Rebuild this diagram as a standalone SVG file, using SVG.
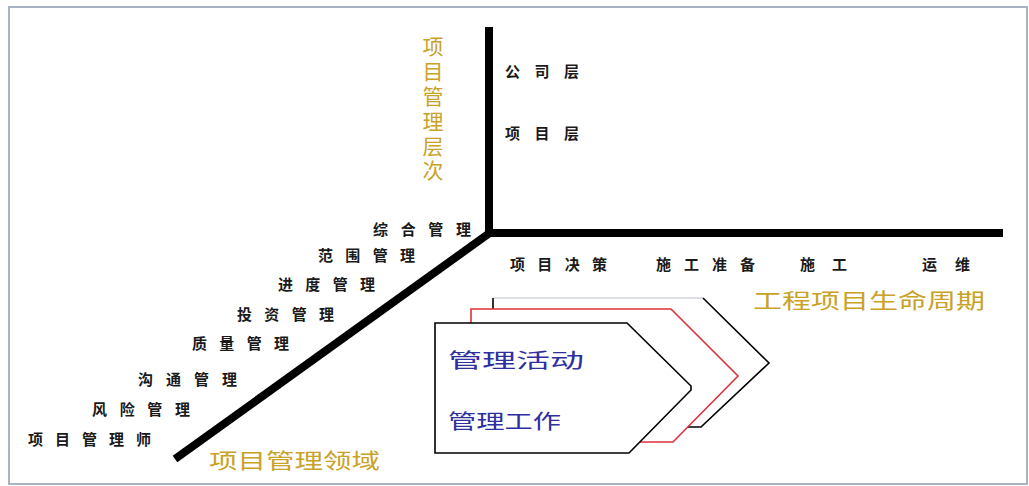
<svg xmlns="http://www.w3.org/2000/svg" width="1029" height="486" viewBox="0 0 1029 486">
  <style>
    .frame { fill: #ffffff; stroke: #a9b3c6; stroke-width: 2; }
    .axis { stroke: #000000; stroke-width: 8; fill: none; stroke-linecap: butt; stroke-linejoin: miter; }
    .gold { font-family: "Noto Sans CJK SC", "Noto Sans", sans-serif; fill: #c9a227; font-size: 21px; }
    .blue { font-family: "Noto Sans CJK SC", "Noto Sans", sans-serif; fill: #2f2fa0; font-size: 20px; }
    .lbl { font-family: "Noto Sans CJK SC", "Noto Sans", sans-serif; fill: #1a1a1a; font-size: 15px; font-weight: bold; }
    .chev { fill: #ffffff; stroke: none; }
    .blk { fill: none; stroke: #000000; stroke-width: 1.6; stroke-linejoin: miter; }
    .red { fill: none; stroke: #e0303a; stroke-width: 1.6; stroke-linejoin: miter; }
  </style>
  <rect class="frame" x="9" y="7" width="1018" height="477"/>

  <g id="connectors">
    <polyline class="axis" points="489,27 489,233 1003,233"/>
    <line class="axis" x1="491" y1="232" x2="175" y2="459"/>
  </g>

  <g id="axis-level-title">
    <text class="gold" x="433" y="36" font-size="23" writing-mode="vertical-rl" letter-spacing="3.8">项目管理层次</text>
  </g>

  <g id="levels">
    <text class="lbl" x="505" y="70" dominant-baseline="central" textLength="74" lengthAdjust="spacing">公司层</text>
    <text class="lbl" x="505" y="132" dominant-baseline="central" textLength="74" lengthAdjust="spacing">项目层</text>
  </g>

  <g id="domains">
    <text class="lbl" x="373" y="228" dominant-baseline="central" textLength="98" lengthAdjust="spacing">综合管理</text>
    <text class="lbl" x="318" y="254" dominant-baseline="central" textLength="97" lengthAdjust="spacing">范围管理</text>
    <text class="lbl" x="278" y="283" dominant-baseline="central" textLength="97" lengthAdjust="spacing">进度管理</text>
    <text class="lbl" x="237" y="313" dominant-baseline="central" textLength="97" lengthAdjust="spacing">投资管理</text>
    <text class="lbl" x="192" y="342" dominant-baseline="central" textLength="97" lengthAdjust="spacing">质量管理</text>
    <text class="lbl" x="138" y="378" dominant-baseline="central" textLength="99" lengthAdjust="spacing">沟通管理</text>
    <text class="lbl" x="92" y="408" dominant-baseline="central" textLength="98" lengthAdjust="spacing">风险管理</text>
    <text class="lbl" x="28" y="438" dominant-baseline="central" textLength="123" lengthAdjust="spacing">项目管理师</text>
  </g>

  <g id="axis-domain-title">
    <text class="gold" x="209" y="459" dominant-baseline="central" textLength="171" lengthAdjust="spacingAndGlyphs">项目管理领域</text>
  </g>

  <g id="phases">
    <text class="lbl" x="510" y="263" dominant-baseline="central" textLength="97" lengthAdjust="spacing">项目决策</text>
    <text class="lbl" x="656" y="263" dominant-baseline="central" textLength="99" lengthAdjust="spacing">施工准备</text>
    <text class="lbl" x="800" y="263" dominant-baseline="central" textLength="47" lengthAdjust="spacing">施工</text>
    <text class="lbl" x="922" y="263" dominant-baseline="central" textLength="48" lengthAdjust="spacing">运维</text>
  </g>

  <g id="axis-lifecycle-title">
    <text class="gold" x="753" y="299" dominant-baseline="central" textLength="232" lengthAdjust="spacingAndGlyphs">工程项目生命周期</text>
  </g>

  <g id="chevron-back">
    <polygon class="chev" points="493,298 703,298 769,363 701,427 493,427"/>
    <line x1="493" y1="298" x2="703" y2="298" stroke="#d0d4da" stroke-width="1.4"/>
    <polyline class="blk" points="493,323 493,298"/>
    <polyline class="blk" points="703,298 769,363 701,427 640,427"/>
  </g>

  <g id="chevron-middle">
    <polygon class="chev" points="471,309 671,309 738,376 673,442 471,442"/>
    <polyline class="red" points="471,323 471,309 671,309 738,376 673,442 630,442"/>
  </g>

  <g id="chevron-front">
    <polygon class="chev" points="435,323 627,323 691,386 691,390 629,453 435,453"/>
    <polygon class="blk" points="435,323 627,323 691,386 691,390 629,453 435,453"/>
    <text class="blue" x="448" y="359" dominant-baseline="central" textLength="136" lengthAdjust="spacingAndGlyphs">管理活动</text>
    <text class="blue" x="448" y="420" dominant-baseline="central" textLength="113" lengthAdjust="spacingAndGlyphs">管理工作</text>
  </g>
</svg>
